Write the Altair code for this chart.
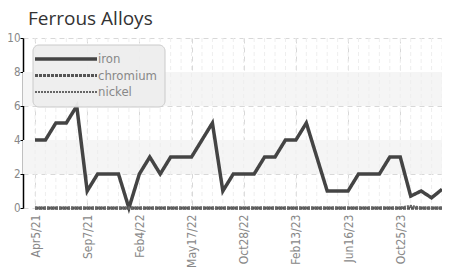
import altair as alt
import pandas as pd

tick_labels = ["Apr5/21", "Sep7/21", "Feb4/22", "May17/22", "Oct28/22",
               "Feb13/23", "Jun16/23", "Oct25/23"]
iron = [4, 4, 5, 5, 6, 1, 2, 2, 2, 0,
        2, 3, 2, 3, 3, 3, 4, 5, 1, 2,
        2, 2, 3, 3, 4, 4, 5, 3, 1, 1,
        1, 2, 2, 2, 3, 3, 0.7, 1.0, 0.6, 1.1]
chromium = [0] * 40
nickel = [0] * 36 + [0.1, 0, 0, 0]
series = ["iron", "chromium", "nickel"]
dashes = [[1, 0], [3, 1], [2, 1]]
widths = [3.5, 3, 2]
colors = ["#444444", "#555555", "#666666"]
bands = [[2, 4], [6, 8]]

rows = []
for k, (name, vals) in enumerate(zip(series, [iron, chromium, nickel])):
    for i, v in enumerate(vals):
        rows.append({"idx": i, "value": v, "series": name, "order": k})
df = pd.DataFrame(rows)
band_df = pd.DataFrame({"lo": [b[0] for b in bands], "hi": [b[1] for b in bands]})
minor_df = pd.DataFrame({"idx": list(range(40))})

W, H = 419, 170
label_expr = "[" + ",".join(f"'{t}'" for t in tick_labels) + "][round(datum.value/5)]"
xscale = alt.Scale(domain=[-1.15, 39.0], nice=False, zero=False)
yscale = alt.Scale(domain=[0, 10], nice=False)
font = "DejaVu Sans Condensed"

xaxis = alt.Axis(values=[0, 5, 10, 15, 20, 25, 30, 35], labelExpr=label_expr,
                 labelAngle=270, labelColor="#888888", labelFont=font,
                 labelFontSize=12, labelPadding=6, domain=False, ticks=False,
                 grid=True, gridColor="#d8d8d8", gridDash=[5, 4], title=None)
yaxis = alt.Axis(values=[0, 2, 4, 6, 8, 10], labelColor="#888888", labelFont=font,
                 labelFontSize=11.5, domainColor="#000000", domainWidth=1.5,
                 tickColor="#000000", tickSize=3, labelPadding=0,
                 grid=True, gridColor="#d8d8d8", gridDash=[5, 4], title=None)

band = alt.Chart(band_df).mark_rect(color="#f5f5f5").encode(
    y=alt.Y("lo:Q", scale=yscale, axis=yaxis), y2="hi:Q",
    x=alt.value(0), x2=alt.value(W))

minor = alt.Chart(minor_df).mark_rule(color="#eeeeee", strokeDash=[4, 3], strokeWidth=1).encode(
    x=alt.X("idx:Q", scale=xscale, axis=xaxis))

lines = alt.Chart(df).mark_line(strokeCap="butt").encode(
    x=alt.X("idx:Q", scale=xscale, axis=xaxis),
    y=alt.Y("value:Q", scale=yscale, axis=yaxis),
    color=alt.Color("series:N", scale=alt.Scale(domain=series, range=colors), legend=None),
    strokeDash=alt.StrokeDash("series:N", scale=alt.Scale(domain=series, range=dashes), legend=None),
    strokeWidth=alt.StrokeWidth("series:N", scale=alt.Scale(domain=series, range=widths), legend=None),
    order="order:Q",
)

# manual legend
leg_box = alt.Chart(pd.DataFrame({"a": [0]})).mark_rect(
    fill="#eeeeee", stroke="#c8c8c8", cornerRadius=6, opacity=0.95).encode(
    x=alt.value(10), x2=alt.value(142), y=alt.value(7), y2=alt.value(69))
leg_lines = []
for k, name in enumerate(series):
    ypix = 21 + k * 16.5
    leg_lines.append(
        alt.Chart(pd.DataFrame({"series": [name]})).mark_rule(
            color=colors[k], strokeDash=dashes[k], strokeWidth=widths[k], strokeCap="butt").encode(
            x=alt.value(12), x2=alt.value(74), y=alt.value(ypix)))
    leg_lines.append(
        alt.Chart(pd.DataFrame({"series": [name]})).mark_text(
            align="left", baseline="middle", font=font, fontSize=13, color="#888888").encode(
            x=alt.value(75), y=alt.value(ypix), text="series:N"))

chart = alt.layer(band, minor, lines, leg_box, *leg_lines).properties(
    width=W, height=H,
    title=alt.TitleParams("Ferrous Alloys", anchor="start", frame="group", font="Open Sans",
                          fontSize=19, fontWeight="normal", color="#333333", offset=3, dx=5),
    autosize=alt.AutoSizeParams(type="none"),
    padding={"left": 15, "top": 30, "right": 0, "bottom": 64},
).configure_view(stroke=None).configure_axis(labelOverlap=False)

chart.save("out.html", embed_options={"renderer": "svg", "actions": False})
